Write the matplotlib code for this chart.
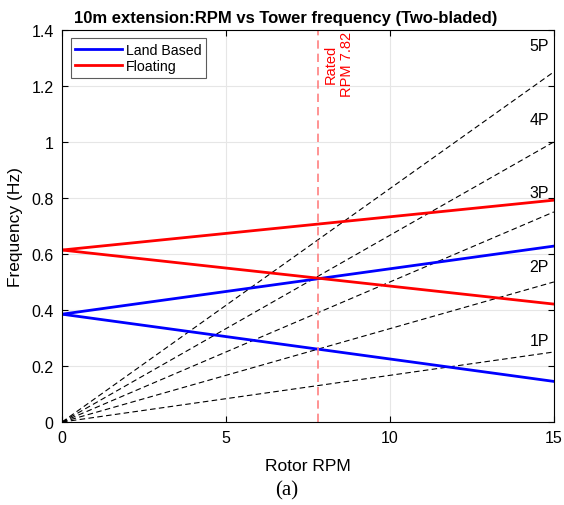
import matplotlib
matplotlib.use("Agg")
import matplotlib.pyplot as plt
import numpy as np

plt.rcParams['font.family'] = ['Liberation Sans', 'DejaVu Sans']

rpm_range = [0, 15]
harmonics = [1, 2, 3, 4, 5]
harmonic_labels = ['1P', '2P', '3P', '4P', '5P']
harmonic_label_y = [0.29, 0.555, 0.82, 1.08, 1.345]

land_up = [0.385, 0.628]
land_down = [0.385, 0.145]
float_up = [0.614, 0.792]
float_down = [0.614, 0.421]

rated_rpm = 7.82

fig = plt.figure(figsize=(5.64, 5.06), dpi=100)
ax = fig.add_axes([0.110, 0.164, 0.872, 0.775])

rpm = np.array(rpm_range, dtype=float)
for n, lab, ly in zip(harmonics, harmonic_labels, harmonic_label_y):
    ax.plot(rpm, n * rpm / 60.0, 'k--', lw=0.8, dashes=(5, 3))
    ax.text(14.55, ly, lab, ha='center', va='center', fontsize=11.5)

ax.plot(rpm, land_up, color='#0000ff', lw=2, label='Land Based')
ax.plot(rpm, land_down, color='#0000ff', lw=2)
ax.plot(rpm, float_up, color='#ff0000', lw=2, label='Floating')
ax.plot(rpm, float_down, color='#ff0000', lw=2)

ax.axvline(rated_rpm, color='#ff8080', lw=1.2, ls='--', dashes=(5, 3))
ax.text(rated_rpm + 0.62, 1.395, 'Rated\nRPM 7.82', rotation=90, color='#ff0000',
        ha='center', va='top', fontsize=10.5, linespacing=1.2)

ax.set_xlim(0, 15)
ax.set_ylim(0, 1.4)
ax.set_xticks([0, 5, 10, 15])
ax.set_yticks(np.arange(0, 1.41, 0.2))
ax.set_yticklabels(['0', '0.2', '0.4', '0.6', '0.8', '1', '1.2', '1.4'])
ax.grid(True, color='#e6e6e6', lw=0.8)
ax.set_axisbelow(True)
ax.tick_params(direction='in', labelsize=11.5, length=4, top=True, right=True, pad=6)
for s in ax.spines.values():
    s.set_linewidth(0.8)

ax.set_xlabel('Rotor RPM', fontsize=12.5, labelpad=9)
ax.set_ylabel('Frequency (Hz)', fontsize=12.5, labelpad=6)
ax.set_title('10m extension:RPM vs Tower frequency (Two-bladed)', fontsize=12,
             fontweight='bold', pad=6, x=0.455)

leg = ax.legend(loc='upper left', fontsize=10.2, frameon=True, fancybox=False,
                edgecolor='#333333', handlelength=3.3, borderaxespad=0.6,
                borderpad=0.3, labelspacing=0.2, handletextpad=0.3)
leg.get_frame().set_linewidth(0.8)

fig.text(0.509, 0.03, '(a)', family='Liberation Serif', fontsize=15,
         ha='center', va='center')

fig.savefig('out.png', dpi=100)
